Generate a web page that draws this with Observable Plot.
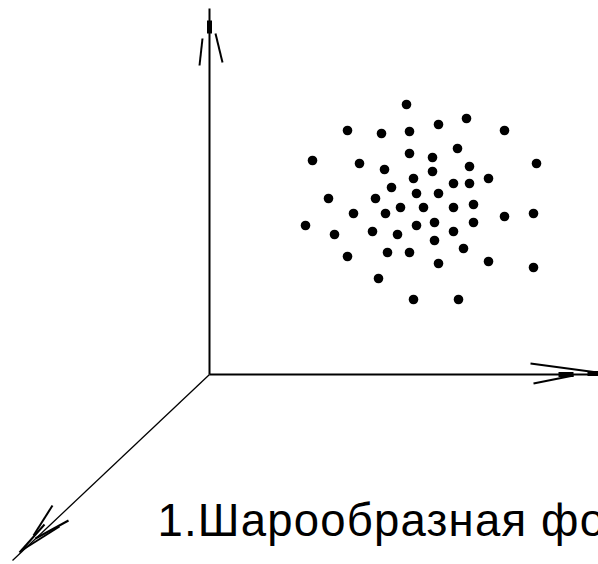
<!DOCTYPE html>
<html>
<head>
<meta charset="utf-8">
<script src="https://cdn.jsdelivr.net/npm/d3@7"></script>
<script src="https://cdn.jsdelivr.net/npm/@observablehq/plot@0.6"></script>
<style>
  html, body { margin: 0; padding: 0; background: #fff; }
  #chart svg { display: block; }
</style>
</head>
<body>
<div id="chart"></div>
<script>
// Coordinates are measured from the origin of the three axes, y pointing up.

// Point cloud: x and y of each particle
const cloudX = [197, 138, 172, 200, 229, 257, 295,
                103, 150, 175, 200, 223, 248, 260, 327,
                223, 204, 182, 244, 260, 279,
                119, 166, 207, 229,
                144, 176, 191, 214, 244, 264, 295, 324,
                96, 125, 163, 188, 207, 225, 244, 264, 225,
                138, 178, 200, 254, 229, 279, 324,
                169, 204, 249];
const cloudY = [270, 244, 241, 243, 250, 256, 244,
                214, 211, 205, 221, 217, 226, 208, 211,
                203, 196, 187, 191, 191, 196,
                176, 176, 181, 181,
                161, 161, 167, 167, 167, 170, 158, 161,
                149, 140, 143, 140, 149, 152, 143, 152, 134,
                118, 122, 122, 126, 111, 113, 107,
                96, 75, 75];

// Axis ends (vertical, horizontal, depth)
const axisEndX = [0, 389, -197];
const axisEndY = [366, 0, -186];

// Arrowhead strokes: [x1, y1, x2, y2]
const barbs = [
  [-7, 336, -10, 309], [6, 341, 13, 312],            // vertical axis
  [321, 11, 388, 2], [324, -9, 364, -1],              // horizontal axis
  [-176, -161, -157, -131], [-174, -164, -141, -146], // depth axis
  [-190, -178, -165, -150], [-188, -176, -150, -152]
];
// Heavy stems just behind the arrow tips: [x1, y1, x2, y2]
const stems = [
  [0, 354, 0, 341],
  [349, 0, 364, 0],
  [378, 1, 389, 1]
];

const caption = "1.Шарообразная фо";
const captionAt = {x: -52, y: -161};

const cloud = cloudX.map((x, i) => ({x, y: cloudY[i]}));
const axes = axisEndX.map((x, i) => ({x1: 0, y1: 0, x2: x, y2: axisEndY[i]}));
const barbRows = barbs.map(([x1, y1, x2, y2]) => ({x1, y1, x2, y2}));
const stemRows = stems.map(([x1, y1, x2, y2]) => ({x1, y1, x2, y2}));

const chart = Plot.plot({
  width: 598,
  height: 564,
  margin: 0,
  x: {domain: [-209, 389], axis: null},
  y: {domain: [-190, 374], axis: null},
  style: {background: "#fff"},
  marks: [
    Plot.link(axes.slice(0, 2), {x1: "x1", y1: "y1", x2: "x2", y2: "y2", stroke: "#000", strokeWidth: 2}),
    Plot.link(axes.slice(2), {x1: "x1", y1: "y1", x2: "x2", y2: "y2", stroke: "#000", strokeWidth: 1.3}),
    Plot.link(barbRows, {x1: "x1", y1: "y1", x2: "x2", y2: "y2", stroke: "#000", strokeWidth: 2}),
    Plot.link(stemRows, {x1: "x1", y1: "y1", x2: "x2", y2: "y2", stroke: "#000", strokeWidth: 5}),
    Plot.dot(cloud, {x: "x", y: "y", r: 4.8, fill: "#000", stroke: "none"}),
    Plot.text([captionAt], {
      x: "x", y: "y", text: () => caption,
      textAnchor: "start", lineAnchor: "bottom",
      fontSize: 45.5, fontFamily: "Liberation Sans, Arial, sans-serif", fill: "#000"
    })
  ]
});
// the caption is set slightly wide
d3.select(chart).selectAll("text").style("letter-spacing", "1.2px");
document.getElementById("chart").append(chart);
</script>
</body>
</html>
